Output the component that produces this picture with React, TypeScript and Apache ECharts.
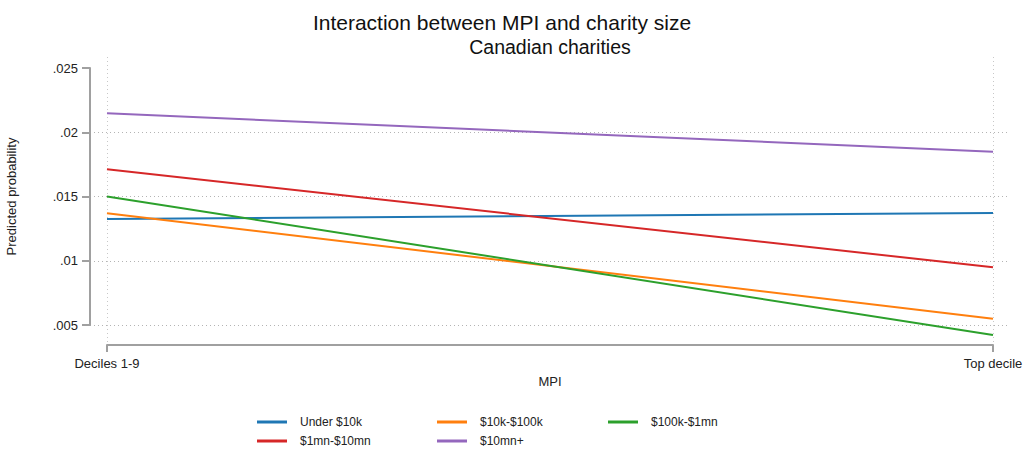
import React, { useEffect, useRef } from "react";
import * as echarts from "echarts";

const categories = ["Deciles 1-9", "Top decile"];
const seriesNames = ["Under $10k", "$10k-$100k", "$100k-$1mn", "$1mn-$10mn", "$10mn+"];
const under10k = [0.01325, 0.01372];
const k10to100k = [0.01369, 0.00549];
const k100to1mn = [0.0150, 0.00422];
const mn1to10mn = [0.01712, 0.00949];
const mn10plus = [0.02147, 0.01849];
const yTicks = { min: 0.005, max: 0.025, step: 0.005 };
const colors = ["#1f77b4", "#ff7f0e", "#2ca02c", "#d62728", "#9467bd"];

const allValues = [under10k, k10to100k, k100to1mn, mn1to10mn, mn10plus];
const legendPos = [
  { left: 257, top: 416 },
  { left: 437, top: 416 },
  { left: 608, top: 416 },
  { left: 257, top: 435 },
  { left: 437, top: 435 },
];

const FONT = "Liberation Sans, Arial, sans-serif";

export default function App() {
  const ref = useRef<HTMLDivElement>(null);
  useEffect(() => {
    if (!ref.current) return;
    document.body.style.margin = "0";
    const chart = echarts.init(ref.current, undefined, { renderer: "svg" });
    const g0Left = 90, g0Right = 22;
    const catLeft = 107, catRight = 993;
    const pad = (catLeft - g0Left) / (catRight - catLeft);
    const padR = (1032 - g0Right - catRight) / (catRight - catLeft);
    const option: any = {
      animation: false,
      backgroundColor: "#ffffff",
      textStyle: { fontFamily: FONT },
      title: [
        {
          text: "Interaction between MPI and charity size",
          left: 497,
          top: 7,
          textAlign: "center",
          textStyle: { fontSize: 21, fontWeight: "normal", color: "#111", fontFamily: FONT },
        },
        {
          text: "Canadian charities",
          left: 545,
          top: 32,
          textAlign: "center",
          textStyle: { fontSize: 19.5, fontWeight: "normal", color: "#111", fontFamily: FONT },
        },
      ],
      legend: seriesNames.map((n, i) => ({
        data: [n],
        left: legendPos[i].left,
        top: legendPos[i].top,
        padding: 0,
        itemWidth: 30,
        itemHeight: 3,
        itemGap: 10,
        icon: "rect",
        selectedMode: false,
        textStyle: { fontSize: 12, lineHeight: 12, color: "#222", fontFamily: FONT, padding: [0, 0, 0, 8] },
      })),
      grid: [
        { left: g0Left, right: g0Right, top: 68, bottom: 449 - 325, containLabel: false, outerBoundsMode: "none" },
        { left: catLeft, right: 1032 - catRight, top: 57, bottom: 449 - 345, containLabel: false, outerBoundsMode: "none" },
      ],
      xAxis: [
        {
          gridIndex: 0,
          type: "value",
          min: -pad,
          max: categories.length - 1 + padR,
          show: false,
        },
        {
          gridIndex: 1,
          type: "category",
          data: categories,
          boundaryGap: false,
          axisLine: { onZero: false, lineStyle: { color: "#a0a0a0", width: 2 } },
          axisTick: { show: true, length: 7, lineStyle: { color: "#a0a0a0", width: 2 } },
          axisLabel: { fontSize: 13, color: "#222", margin: 12, fontFamily: FONT },
          splitLine: { show: true, lineStyle: { color: "#c8c8c8", type: [1, 3], width: 1 } },
          name: "MPI",
          nameLocation: "middle",
          nameGap: 30,
          nameTextStyle: { fontSize: 13, color: "#222", fontFamily: FONT },
        },
      ],
      yAxis: [
        {
          gridIndex: 0,
          type: "value",
          min: yTicks.min,
          max: yTicks.max,
          interval: yTicks.step,
          axisLine: { show: true, onZero: false, lineStyle: { color: "#a0a0a0", width: 2 } },
          axisTick: { show: true, length: 8, lineStyle: { color: "#a0a0a0", width: 2 } },
          axisLabel: {
            fontSize: 13,
            color: "#222",
            margin: 12,
            fontFamily: FONT,
            formatter: (v: number) => String(Number(v.toFixed(4))).replace(/^0/, ""),
          },
          splitLine: {
            show: true,
            lineStyle: {
              color: ["#b4b4b4", "#b4b4b4", "#b4b4b4", "#b4b4b4", "rgba(0,0,0,0)"],
              type: [1, 3],
              width: 1,
            },
          },
          name: "Predicted probability",
          nameLocation: "middle",
          nameGap: 72,
          nameTextStyle: { fontSize: 13, color: "#222", fontFamily: FONT },
        },
        { gridIndex: 1, type: "value", min: 0, max: 1, show: false },
      ],
      series: seriesNames.map((n, i) => ({
        name: n,
        type: "line",
        xAxisIndex: 0,
        yAxisIndex: 0,
        data: allValues[i].map((v, j) => [j, v]),
        showSymbol: false,
        symbol: "none",
        clip: false,
        color: colors[i],
        lineStyle: { width: 2, color: colors[i] },
        emphasis: { disabled: true },
      })),
    };
    chart.setOption(option);
    return () => chart.dispose();
  }, []);
  return (
    <div
      ref={ref}
      style={{ position: "fixed", left: 0, top: 0, width: 1032, height: 449 }}
    />
  );
}
